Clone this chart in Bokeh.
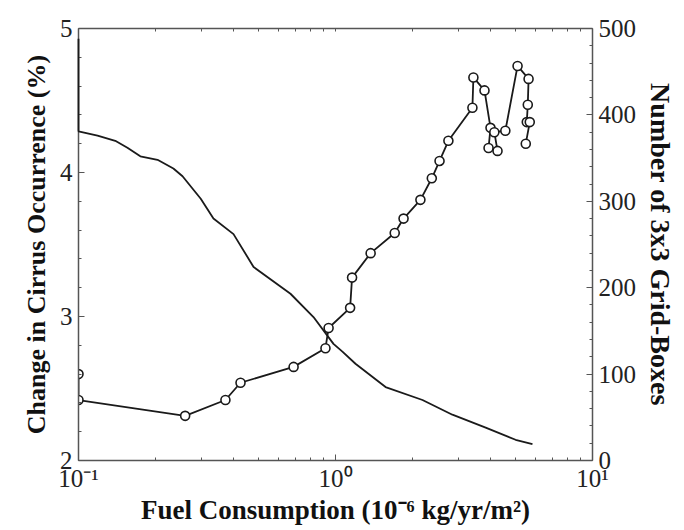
from bokeh.plotting import figure
from bokeh.models import (LinearAxis, LogAxis, Range1d, CustomJSTickFormatter,
                          SingleIntervalTicker, FixedTicker)
from bokeh.embed import file_html
from bokeh.resources import INLINE

# Change in cirrus occurrence (%) vs. fuel consumption, left axis
fuel_cirrus = [0.1, 0.1, 0.26, 0.373, 0.427, 0.687, 0.914, 0.94, 1.14, 1.16,
               1.37, 1.70, 1.84, 2.14, 2.37, 2.54, 2.75, 3.41, 3.44, 3.80,
               4.01, 3.94, 4.27, 4.15, 4.58, 5.11, 5.64, 5.60, 5.55, 5.70, 5.50]
cirrus_change = [2.60, 2.42, 2.31, 2.42, 2.54, 2.65, 2.78, 2.92, 3.06, 3.27,
                 3.44, 3.58, 3.68, 3.81, 3.96, 4.08, 4.22, 4.45, 4.66, 4.57,
                 4.31, 4.17, 4.15, 4.28, 4.29, 4.74, 4.65, 4.47, 4.35, 4.35, 4.20]

# Number of 3x3 grid-boxes above each fuel-consumption threshold, right axis
fuel_boxes = [0.1, 0.1, 0.1186, 0.139, 0.155, 0.174, 0.203, 0.234, 0.254, 0.299,
              0.335, 0.401, 0.480, 0.668, 0.821, 0.982, 1.064, 1.196, 1.566,
              2.18, 2.85, 3.84, 5.02, 5.84]
grid_boxes = [488, 381, 376, 370, 362, 352, 348, 338, 329, 303,
              280, 262, 224, 193, 166, 135, 126, 112, 85,
              70, 53, 38, 24, 19]

# Decade ticks and the log minor ticks between them
x_major = [0.1, 1, 10]
x_minor = [0.2, 0.3, 0.4, 0.5, 0.6, 0.7, 0.8, 0.9,
           2, 3, 4, 5, 6, 7, 8, 9]

FONT = "Liberation Serif"
AXIS_COLOR = "#555555"

p = figure(width=684, height=530, x_axis_type="log",
           x_range=Range1d(0.1, 10), y_range=Range1d(2, 5),
           output_backend="svg", toolbar_location=None,
           min_border_left=78, min_border_right=92,
           min_border_top=28, min_border_bottom=70,
           background_fill_color="white", border_fill_color="white")
p.outline_line_color = None
p.xgrid.visible = False
p.ygrid.visible = False
p.extra_y_ranges = {"boxes": Range1d(0, 500)}

pow_fmt = CustomJSTickFormatter(code="""
const e = Math.round(Math.log10(tick));
const sup = {'-': '\u207b', '0': '\u2070', '1': '\u00b9', '2': '\u00b2', '3': '\u00b3',
             '4': '\u2074', '5': '\u2075', '6': '\u2076', '7': '\u2077', '8': '\u2078', '9': '\u2079'};
return '10' + String(e).split('').map(c => sup[c]).join('');
""")


def style(ax, title_size="26px"):
    ax.axis_line_color = AXIS_COLOR
    ax.axis_line_width = 1.5
    ax.major_tick_line_color = AXIS_COLOR
    ax.minor_tick_line_color = AXIS_COLOR
    ax.major_tick_in = 6
    ax.major_tick_out = 0
    ax.minor_tick_in = 3
    ax.minor_tick_out = 0
    ax.major_label_text_font = FONT
    ax.major_label_text_font_size = "25px"
    ax.major_label_text_color = "#222222"
    ax.axis_label_text_font = FONT
    ax.axis_label_text_font_style = "bold"
    ax.axis_label_text_font_size = title_size
    ax.axis_label_text_color = "#111111"


xa = p.xaxis[0]
style(xa, "27px")
xa.ticker = FixedTicker(ticks=x_major, minor_ticks=x_minor)
xa.formatter = pow_fmt
xa.major_label_standoff = 4
xa.axis_label = "Fuel Consumption (10\u207b\u2076 kg/yr/m\u00b2)"
xa.axis_label_standoff = 0

ya = p.yaxis[0]
style(ya, "26px")
ya.ticker = SingleIntervalTicker(interval=1, num_minor_ticks=5)
ya.major_label_standoff = 6
ya.axis_label = "Change in Cirrus Occurrence (%)"
ya.axis_label_standoff = 6

top = LogAxis(ticker=FixedTicker(ticks=[], minor_ticks=x_minor + [1]))
style(top)
p.add_layout(top, "above")

right = LinearAxis(y_range_name="boxes",
                   ticker=SingleIntervalTicker(interval=100, num_minor_ticks=5))
style(right, "28px")
right.major_label_standoff = 6
right.axis_label = "Number of 3x3 Grid-Boxes"
right.axis_label_standoff = 6
p.add_layout(right, "right")

# Grid-box count curve, drawn above the axis lines so the left-edge drop shows
p.line(fuel_boxes, grid_boxes, y_range_name="boxes",
       line_color="#1a1a1a", line_width=1.8, level="overlay")

# Cirrus change with open circle markers
p.line(fuel_cirrus, cirrus_change, line_color="#1a1a1a", line_width=1.8)
p.scatter(fuel_cirrus, cirrus_change, marker="circle", size=9,
          fill_color="white", line_color="#1a1a1a", line_width=1.6)

open("out.html", "w").write(file_html(p, INLINE))
